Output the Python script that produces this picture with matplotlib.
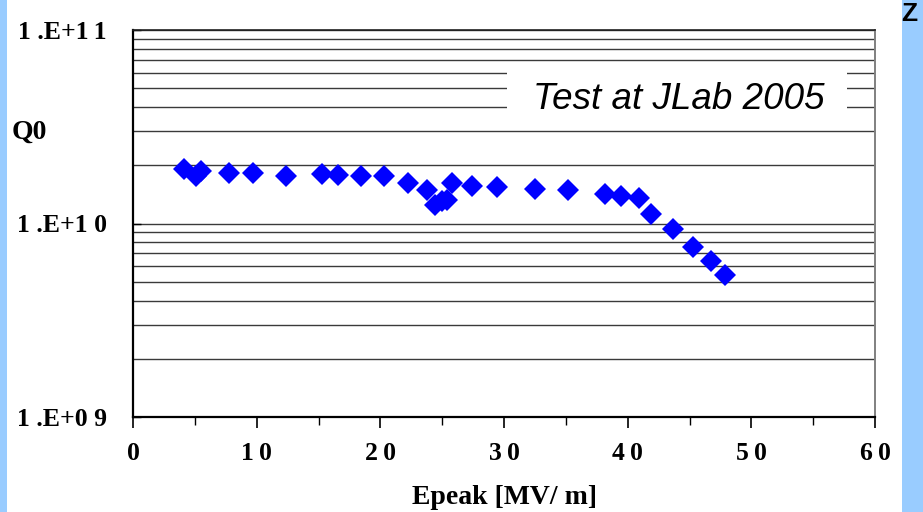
import matplotlib
matplotlib.use('Agg')
import matplotlib.pyplot as plt
from matplotlib.patches import Rectangle
from matplotlib.ticker import FixedLocator, LogLocator, NullFormatter
import numpy as np

# Q0 vs Epeak
epeak = [4.1, 5.1, 5.5, 7.8, 9.7, 12.4, 15.3, 16.6, 18.4, 20.3,
         22.2, 23.8, 24.4, 25.0, 25.4, 25.8, 27.4, 29.4, 32.5, 35.2,
         38.2, 39.5, 40.9, 41.9, 43.7, 45.3, 46.7, 47.9]
q0 = [1.91e10, 1.76e10, 1.87e10, 1.83e10, 1.83e10, 1.76e10, 1.80e10, 1.78e10, 1.75e10, 1.75e10,
      1.62e10, 1.49e10, 1.25e10, 1.30e10, 1.33e10, 1.62e10, 1.57e10, 1.55e10, 1.50e10, 1.49e10,
      1.42e10, 1.39e10, 1.35e10, 1.12e10, 9.4e9, 7.6e9, 6.4e9, 5.4e9]

xticks = [0, 10, 20, 30, 40, 50, 60]
xticklabels = ['0', '1\u20090', '2\u20090', '3\u20090', '4\u20090', '5\u20090', '6\u20090']
yticks = [1e9, 1e10, 1e11]
yticklabels = ['1 .E+0 9', '1 .E+1 0', '1 .E+1\u20091']

serif = ['Liberation Serif', 'DejaVu Serif']
sans = ['Liberation Sans', 'DejaVu Sans']
lightblue = '#99ccff'

fig = plt.figure(figsize=(9.23, 5.12), dpi=100)
fig.patch.set_facecolor('white')

# side strips
fig.patches.append(Rectangle((0, 0), 7/923, 1, transform=fig.transFigure,
                             facecolor=lightblue, edgecolor='none'))
fig.patches.append(Rectangle((902/923, 0), 21/923, 1, transform=fig.transFigure,
                             facecolor=lightblue, edgecolor='none'))
fig.text(909/923, 1 - 14/512, 'Z', family=sans, weight='bold', size=19,
         ha='center', va='center', color='black')

ax = fig.add_axes([133/923, 95/512, 742/923, 387/512])
ax.set_yscale('log')
ax.set_xlim(0, 60)
ax.set_ylim(1e9, 1e11)

ax.yaxis.set_major_locator(FixedLocator(yticks))
ax.yaxis.set_minor_locator(LogLocator(base=10, subs=np.arange(2, 10)))
ax.yaxis.set_minor_formatter(NullFormatter())
ax.set_yticklabels(yticklabels)
ax.grid(True, which='both', axis='y', color='#3a3a3a', lw=1.0, zorder=0)
ax.set_axisbelow(True)

ax.set_xticks(xticks)
ax.set_xticklabels(xticklabels)
ax.set_xticks(np.arange(5, 60, 10), minor=True)

ax.tick_params(axis='x', which='major', direction='out', length=8, width=1.2, pad=10)
ax.tick_params(axis='x', which='minor', direction='out', length=6, width=1)
ax.tick_params(axis='y', which='major', direction='in', length=6, width=1, pad=19)
ax.tick_params(axis='y', which='minor', length=0)

for lab in ax.get_xticklabels() + ax.get_yticklabels():
    lab.set_family(serif)
    lab.set_weight('bold')
    lab.set_size(18.5)

ax.spines['left'].set_linewidth(1.6)
ax.spines['bottom'].set_linewidth(1.6)
ax.spines['top'].set_color('#202020')
ax.spines['top'].set_linewidth(1.2)
ax.spines['right'].set_color('#808080')
ax.spines['right'].set_linewidth(1.4)

ax.plot(epeak, q0, 'D', color='#0000ff', ms=11, mew=0, zorder=3, clip_on=False)

# caption box over the grid
ax.add_patch(Rectangle((0.504, 0.755), 0.458, 0.16, transform=ax.transAxes,
                       facecolor='white', edgecolor='none', zorder=2))
ax.text(0.735, 0.82, 'Test at JLab 2005', transform=ax.transAxes, family=sans,
        style='italic', size=26.5, ha='center', va='center', zorder=4)

fig.text(12/923, 1 - 132/512, 'Q0', family=serif, weight='bold', size=20,
         ha='left', va='center')
fig.text(504/923, 1 - 497/512, 'Epeak [MV/ m]', family=serif, weight='bold', size=20,
         ha='center', va='center')

fig.savefig('out.png', dpi=100)
